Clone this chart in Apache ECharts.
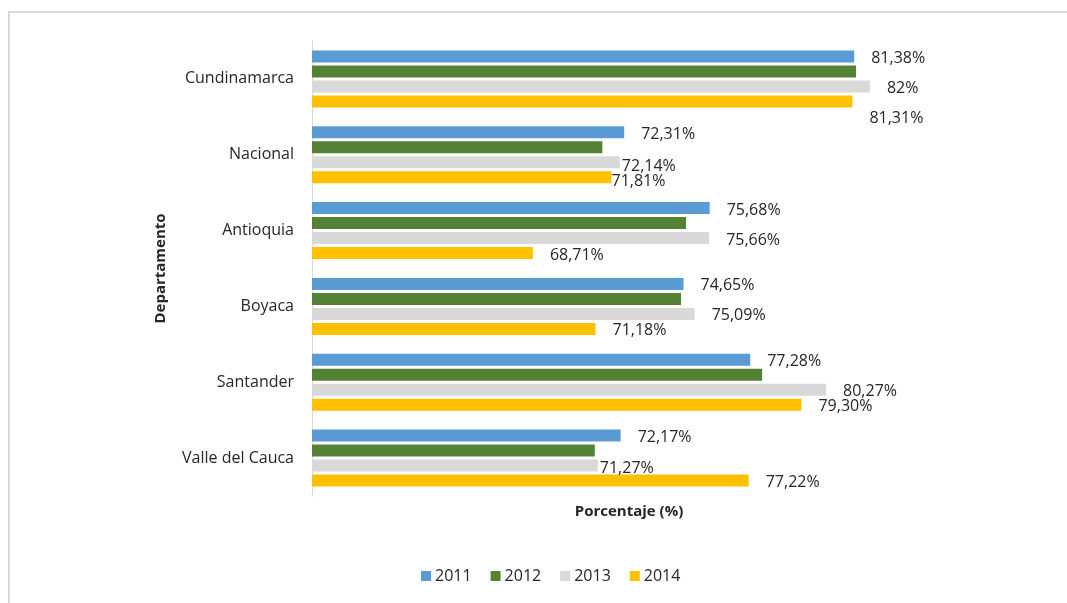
<!DOCTYPE html>
<html>
<head>
<meta charset="utf-8">
<script src="https://cdn.jsdelivr.net/npm/echarts@6/dist/echarts.min.js"></script>
<style>
  html, body { margin: 0; padding: 0; background: #fff; }
  #chart { width: 1067px; height: 603px; }
</style>
</head>
<body>
<div id="chart"></div>
<script>
// departamentos, de arriba hacia abajo
const departamentos = ["Cundinamarca", "Nacional", "Antioquia", "Boyaca", "Santander", "Valle del Cauca"];
const years = ["2011", "2012", "2013", "2014"];

const v2011 = [81.38, 72.31, 75.68, 74.65, 77.28, 72.17];
const v2012 = [81.45, 71.45, 74.75, 74.55, 77.75, 71.15]; // sin etiqueta en el original, estimado
const v2013 = [82.0, 72.14, 75.66, 75.09, 80.27, 71.27];
const v2014 = [81.31, 71.81, 68.71, 71.18, 79.3, 77.22];

const colors = ["#5b9bd5", "#548235", "#d9d9d9", "#ffc000"];

// etiquetas que en el original fueron movidas a mano
const labelShift = {
  "2013": { 1: [-15, 2], 5: [-15, 1] },
  "2014": { 0: [0, 15], 1: [-17, 2] }
};

const fmt = (v) => (Number.isInteger(v) ? String(v) : v.toFixed(2).replace(".", ",")) + "%";

const makeSeries = (name, values, idx, showLabel) => ({
  name: name,
  type: "bar",
  barWidth: 12,
  barGap: "25%",
  itemStyle: { color: colors[idx] },
  label: {
    show: showLabel,
    position: "right",
    distance: 17,
    offset: [0, 2],
    fontFamily: "Open Sans",
    fontSize: 16,
    color: "#262626",
    formatter: (p) => fmt(p.value)
  },
  data: values.map((v, i) => {
    const s = labelShift[name] && labelShift[name][i];
    return s ? { value: v, label: { offset: [s[0], s[1] + 2] } } : v;
  })
});

const myChart = echarts.init(document.getElementById("chart"));
const option = {
  animation: false,
  textStyle: { fontFamily: "Open Sans" },
  graphic: [
    {
      type: "rect",
      shape: { x: 9, y: 12, width: 1200, height: 700 },
      style: { fill: "none", stroke: "#d9d9d9", lineWidth: 2 },
      silent: true
    }
  ],
  grid: { left: 312, right: 121, top: 41, bottom: 107 },
  legend: {
    data: years,
    left: 416,
    top: 563,
    itemWidth: 10,
    itemHeight: 10,
    itemGap: 19,
    icon: "rect",
    textStyle: { fontFamily: "Open Sans", fontSize: 16, color: "#262626", padding: [0, 0, 0, -1] }
  },
  xAxis: {
    type: "value",
    min: 60,
    max: 85,
    interval: 5,
    axisLine: { show: false },
    axisTick: { show: false },
    axisLabel: { show: false },
    splitLine: { show: false },
    name: "Porcentaje (%)",
    nameLocation: "middle",
    nameGap: 8,
    nameTextStyle: { fontFamily: "Open Sans", fontSize: 15, fontWeight: "bold", color: "#262626", verticalAlign: "top" }
  },
  yAxis: {
    type: "category",
    inverse: true,
    data: departamentos,
    axisLine: { show: true, lineStyle: { color: "#d9d9d9", width: 1 } },
    axisTick: { show: false },
    axisLabel: { margin: 18, fontFamily: "Open Sans", fontSize: 16, color: "#262626" },
    name: "Departamento",
    nameLocation: "middle",
    nameRotate: 90,
    nameGap: 144,
    nameTextStyle: { fontFamily: "Open Sans", fontSize: 15, fontWeight: "bold", color: "#262626" }
  },
  series: [
    makeSeries("2011", v2011, 0, true),
    makeSeries("2012", v2012, 1, false),
    makeSeries("2013", v2013, 2, true),
    makeSeries("2014", v2014, 3, true)
  ]
};
myChart.setOption(option);
</script>
</body>
</html>
